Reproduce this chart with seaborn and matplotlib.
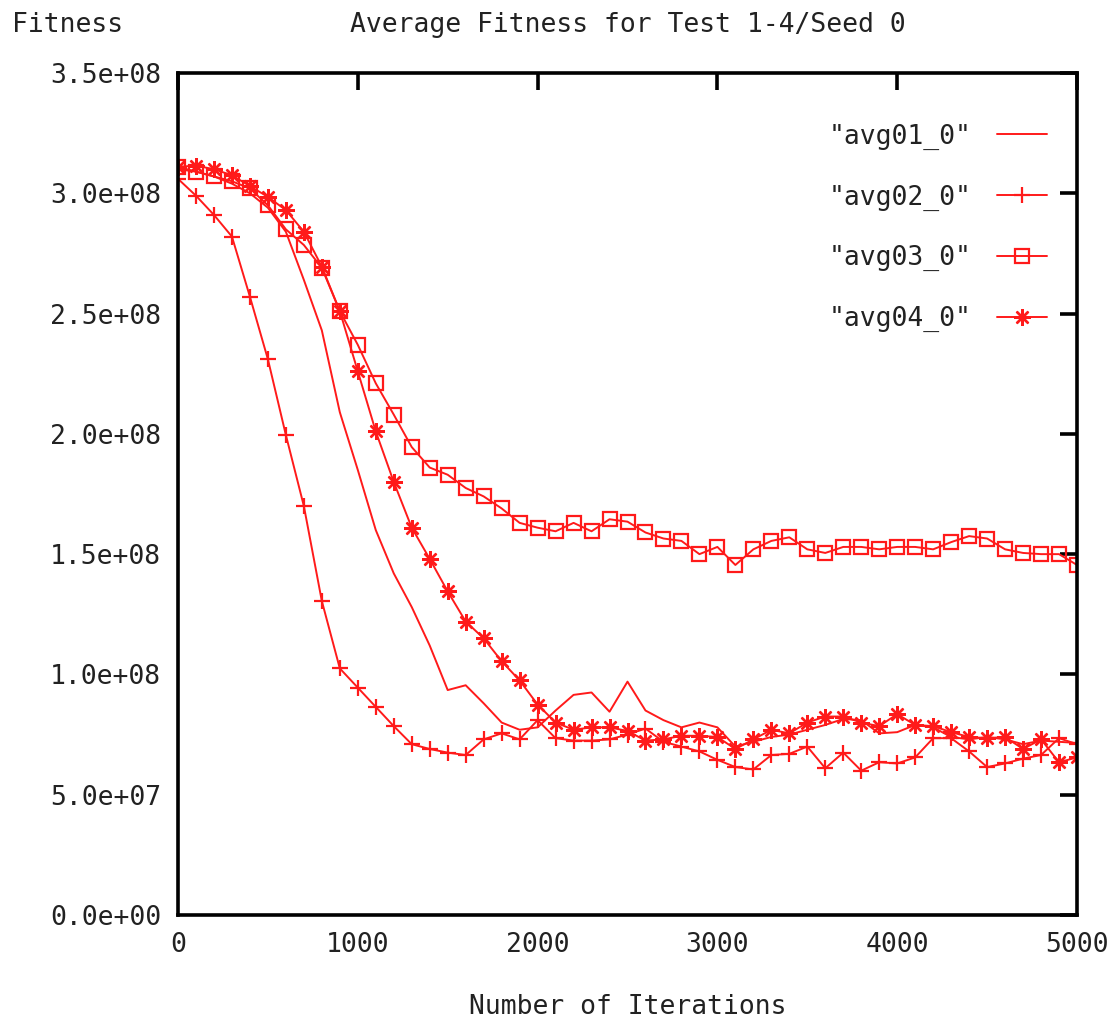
import numpy as np
import pandas as pd
import matplotlib
matplotlib.use("Agg")
import matplotlib.pyplot as plt
import seaborn as sns
from matplotlib.ticker import FuncFormatter, MultipleLocator

iterations = list(range(0, 5001, 100))

avg01 = [3.10, 3.09, 3.07, 3.04, 3.00, 2.94, 2.84, 2.64, 2.43, 2.09,
         1.85, 1.60, 1.42, 1.28, 1.12, 0.935, 0.955, 0.88, 0.80, 0.77,
         0.78, 0.85, 0.915, 0.925, 0.845, 0.97, 0.85, 0.81, 0.78, 0.80,
         0.78, 0.70, 0.72, 0.74, 0.75, 0.77, 0.79, 0.815, 0.81, 0.755,
         0.76, 0.79, 0.78, 0.74, 0.73, 0.74, 0.73, 0.71, 0.725, 0.72, 0.715]

avg02 = [3.06, 2.99, 2.91, 2.82, 2.57, 2.31, 1.995, 1.70, 1.305, 1.025,
         0.945, 0.865, 0.785, 0.71, 0.69, 0.675, 0.665, 0.73, 0.755, 0.73,
         0.81, 0.735, 0.725, 0.725, 0.73, 0.75, 0.775, 0.72, 0.70, 0.68,
         0.645, 0.615, 0.605, 0.665, 0.67, 0.70, 0.61, 0.675, 0.60, 0.635,
         0.63, 0.655, 0.735, 0.735, 0.68, 0.615, 0.63, 0.65, 0.665, 0.735, 0.71]

avg03 = [3.11, 3.09, 3.07, 3.05, 3.02, 2.95, 2.85, 2.785, 2.69, 2.51,
         2.37, 2.21, 2.08, 1.945, 1.86, 1.83, 1.775, 1.74, 1.69, 1.63,
         1.61, 1.595, 1.63, 1.595, 1.645, 1.635, 1.59, 1.565, 1.555, 1.50,
         1.53, 1.455, 1.52, 1.555, 1.57, 1.52, 1.505, 1.53, 1.53, 1.52,
         1.53, 1.53, 1.52, 1.55, 1.575, 1.565, 1.52, 1.505, 1.50, 1.50, 1.455]

avg04 = [3.11, 3.115, 3.10, 3.075, 3.03, 2.985, 2.93, 2.84, 2.695, 2.51,
         2.26, 2.01, 1.80, 1.61, 1.48, 1.345, 1.22, 1.15, 1.055, 0.975,
         0.875, 0.80, 0.77, 0.78, 0.78, 0.765, 0.725, 0.73, 0.745, 0.745,
         0.74, 0.69, 0.73, 0.77, 0.755, 0.80, 0.825, 0.825, 0.80, 0.785,
         0.835, 0.79, 0.785, 0.76, 0.74, 0.735, 0.74, 0.69, 0.73, 0.635, 0.655]

labels = ['"avg01_0"', '"avg02_0"', '"avg03_0"', '"avg04_0"']
series = [avg01, avg02, avg03, avg04]

sns.set_theme(style="white")
plt.rcParams['font.family'] = ['DejaVu Sans Mono', 'DejaVu Sans']

FS = 19
fig = plt.figure(figsize=(11.14, 10.25), dpi=100)
ax = fig.add_axes([178/1114, 110/1025, (1077-178)/1114, (915-73)/1025])

red = "#ff1a1a"
marker_specs = [
    dict(),
    dict(marker='+', markersize=11, markeredgewidth=1.6, markeredgecolor=red),
    dict(marker='s', markersize=10, markerfacecolor='none', markeredgewidth=1.6, markeredgecolor=red),
    dict(marker=(8, 2, 0), markersize=12, markeredgewidth=1.7, markeredgecolor=red),
]

for lab, vals, spec in zip(labels, series, marker_specs):
    df = pd.DataFrame({"iter": iterations, "fit": np.array(vals) * 1e8})
    sns.lineplot(data=df, x="iter", y="fit", ax=ax, color=red, linewidth=1.4,
                 label=lab, **spec)

ax.set_xlim(0, 5000)
ax.set_ylim(0, 3.5e8)
ax.xaxis.set_major_locator(MultipleLocator(1000))
ax.yaxis.set_major_locator(MultipleLocator(0.5e8))
ax.yaxis.set_major_formatter(FuncFormatter(lambda v, p: "%.1e" % v))

for s in ax.spines.values():
    s.set_linewidth(2.6)
    s.set_color("black")
ax.tick_params(axis='both', direction='in', length=12, width=2.6, colors='black',
               top=True, right=True, labelsize=FS, pad=12)
ax.tick_params(axis='both', labelcolor='#222222')
ax.grid(False)

ax.set_xlabel("Number of Iterations", fontsize=FS, color='#222222', labelpad=26)
ax.set_ylabel("")
fig.text(12/1114, 1 - 25/1025, "Fitness", fontsize=FS, color='#222222',
         ha='left', va='center')
fig.text((178+1077)/2/1114, 1 - 25/1025, "Average Fitness for Test 1-4/Seed 0",
         fontsize=FS, color='#222222', ha='center', va='center')

leg = ax.legend(loc='upper right', frameon=False, markerfirst=False, fontsize=FS,
                handlelength=1.9, labelspacing=1.32, handletextpad=0.95,
                bbox_to_anchor=(0.987, 0.962), borderaxespad=0.3)
for t in leg.get_texts():
    t.set_color('#222222')

fig.savefig("out.png", dpi=100, facecolor="white")
